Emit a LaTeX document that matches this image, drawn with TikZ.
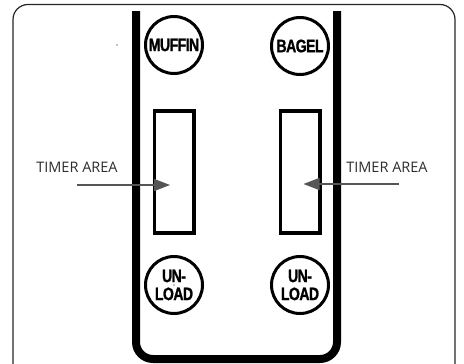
\documentclass[tikz,border=0pt]{standalone}
\usepackage{fontspec}
\setmainfont{Open Sans}
\newfontfamily\btnfont{Liberation Sans}[FakeStretch=0.78,LetterSpace=-3.0,
  BoldFeatures={FakeBold=1.2}]
\usepackage{tikz}
\usetikzlibrary{
  arrows.meta,
  positioning
}
\definecolor{labelgray}{RGB}{45,45,45}
\definecolor{arrowgray}{RGB}{85,85,85}
\tikzset{
  button/.style={circle,draw=black,line width=3pt,minimum size=57pt,inner sep=0pt,
    font=\btnfont\bfseries\fontsize{18}{18}\selectfont,align=center},
  timerbox/.style={rectangle,draw=black,line width=3.5pt,minimum width=39.5pt,
    minimum height=122pt,inner sep=0pt},
  callout/.style={font=\fontsize{14.5}{16}\selectfont,text=labelgray,inner sep=0pt},
  pointer/.style={arrowgray,line width=1.5pt,-{Triangle[length=16pt,width=12pt]}}
}
\begin{document}
\begin{tikzpicture}[x=1pt,y=-1pt]
  \useasboundingbox (0,0) rectangle (464,364);
  \clip (0,0) rectangle (464,364);

  % outer panel
  \draw[black!85,line width=1.2pt,rounded corners=15pt]
    (13,370) -- (13,4.5) -- (455,4.5) -- (455,370);

  % toaster slot
  \draw[line width=8pt,rounded corners=17pt]
    (136,11) -- (136,359) -- (337,359) -- (337,11);

  % left column
  \node[button] (muffin) at (174,45) {MUFFIN};
  \node[timerbox] (tleft) at (174,172) {};
  \node[button] (unleft) at (174,285) {UN-\\LOAD};

  % right column
  \node[button] (bagel) at (300,46) {BAGEL};
  \node[timerbox] (tright) at (300,172) {};
  \node[button] (unright) at (300,285) {UN-\\LOAD};

  % timer labels
  \node[callout] (lbl) at (77,167) {TIMER AREA};
  \node[callout] (rbl) at (387,167) {TIMER AREA};

  \coordinate (ltail) at (77,185);
  \coordinate (ltip) at (170,185);
  \coordinate (rtail) at (399,184);
  \coordinate (rtip) at (303.5,184);
  \draw[pointer] (ltail) -- (ltip);
  \draw[pointer] (rtail) -- (rtip);

  % stray marks
  \fill (117,45) circle (0.6pt);
  \fill (174,285) circle (0.6pt);
\end{tikzpicture}
\end{document}
